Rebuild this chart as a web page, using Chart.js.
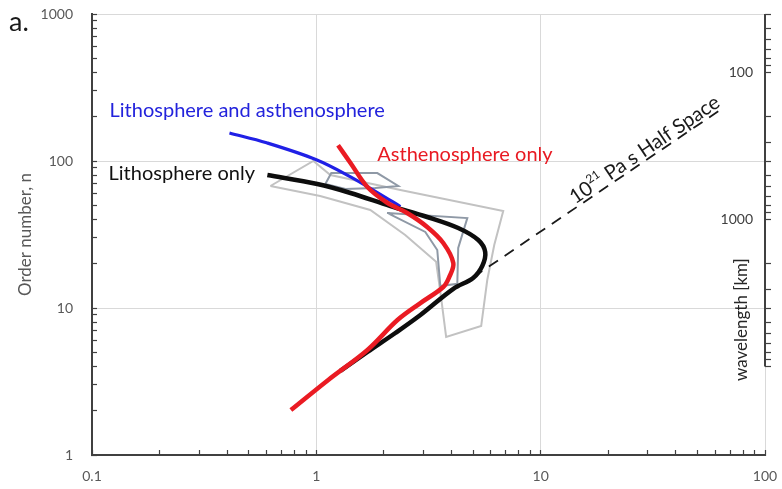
<!DOCTYPE html>
<html>
<head>
<meta charset="utf-8">
<script src="https://cdn.jsdelivr.net/npm/chart.js@4.4.0/dist/chart.umd.min.js"></script>
<style>
  html, body { margin: 0; padding: 0; background: #fff; }
</style>
</head>
<body>
<canvas id="chart" width="782" height="489"></canvas>
<script>
const FONT = 'Lato, "Open Sans", sans-serif';

// curves: x value vs order number n
const bothX = [0.41, 0.6, 1.0, 1.42, 1.87, 2.37];
const bothN = [155, 133, 102, 78, 61, 49];

const lithoX = [0.605, 1.01, 1.42, 2.14, 3.12, 4.29, 5.27, 5.66, 5.49, 5.0, 4.08, 2.91, 2.25, 1.69, 1.28];
const lithoN = [80.3, 69.7, 60.6, 49.4, 41.6, 35.0, 29.0, 24.0, 19.3, 16.0, 13.5, 8.96, 6.76, 5.02, 3.73];

const asthX = [1.25, 1.42, 1.69, 2.07, 2.54, 3.12, 3.68, 4.08, 3.91, 3.68, 2.91, 2.30, 1.69, 1.13, 0.77];
const asthN = [128, 97, 66.5, 52, 44.3, 35.6, 27.7, 20.2, 16.2, 13.9, 10.8, 8.28, 5.18, 3.24, 2.02];

const halfX = [5.0, 63];
const halfN = [16.2, 222];

// grey envelopes
const envAX = [0.624, 0.97, 1.155, 2.37, 6.81, 6.21, 5.78, 5.43, 3.79, 3.6, 3.42, 2.49, 1.74, 1.04, 0.624];
const envAN = [67.6, 100, 80.3, 63.5, 45.7, 26.8, 15.5, 7.54, 6.35, 11.7, 20.6, 31.4, 46.4, 57.8, 67.6];
const envBX = [1.097, 1.166, 1.87, 2.32, 1.83, 1.35, 1.097];
const envBN = [69.7, 82.8, 82.8, 67.6, 65.5, 64.5, 69.7];
const envCX = [2.07, 4.71, 4.29, 4.25, 3.57, 3.46, 3.06, 2.07];
const envCN = [44.3, 40.9, 25.6, 14.6, 14.1, 24.8, 32.9, 44.3];

// axes
const xMajors = [0.1, 1, 10, 100];
const xTickLabels = ['0.1', '1', '10', '100'];
const yMajors = [1, 10, 100, 1000];
const yTickLabels = ['1', '10', '100', '1000'];
const waveMajors = [100, 1000];
const waveTickLabels = ['100', '1000'];
const EARTH_CIRC = 40000; // km, wavelength = EARTH_CIRC / n
const waveAxisEnd = 10000;

const pts = (xs, ys) => xs.map((v, i) => ({ x: v, y: ys[i] }));

function logTicks(majors) {
  const out = [];
  majors.forEach((m, i) => {
    if (i === majors.length - 1) { out.push(m); return; }
    for (let k = 1; k <= 9; k++) out.push(+(m * k).toPrecision(3));
  });
  return out;
}
const isMajor = v => Math.abs(Math.log10(v) - Math.round(Math.log10(v))) < 1e-6;
const waveTicks = logTicks([10, 100, 1000, 10000]).filter(v => v >= 40);

const curveLabels = [
  { text: 'Lithosphere and asthenosphere', x: 0.1197, n: 222, color: '#2323dc' },
  { text: 'Lithosphere only', x: 0.1185, n: 81.6, color: '#111111' },
  { text: 'Asthenosphere only', x: 1.87, n: 109.9, color: '#e81a22' }
];

const noPad = s => { s.paddingLeft = 0; s.paddingRight = 0; s.paddingTop = 0; s.paddingBottom = 0; };

const annotate = {
  id: 'annotate',
  afterDraw(chart) {
    const { ctx, scales: { x, y, y2 } } = chart;
    ctx.save();

    // wavelength axis line (only over its labelled range)
    ctx.strokeStyle = '#404040';
    ctx.lineWidth = 2;
    ctx.beginPath();
    ctx.moveTo(y2.left, y2.getPixelForValue(y2.min));
    ctx.lineTo(y2.left, y2.getPixelForValue(waveAxisEnd));
    ctx.stroke();

    // wavelength title
    ctx.save();
    ctx.translate(y2.left - 23, y2.getPixelForValue(3000) + 30);
    ctx.rotate(-Math.PI / 2);
    ctx.fillStyle = '#262626';
    ctx.font = '17px ' + FONT;
    ctx.textAlign = 'center';
    ctx.textBaseline = 'middle';
    ctx.fillText('wavelength [km]', 0, 0);
    ctx.restore();

    // curve labels
    ctx.font = '20px ' + FONT;
    ctx.textAlign = 'left';
    ctx.textBaseline = 'middle';
    curveLabels.forEach(l => {
      ctx.fillStyle = l.color;
      ctx.fillText(l.text, x.getPixelForValue(l.x), y.getPixelForValue(l.n));
    });

    // half space label along the dashed line
    const x1 = x.getPixelForValue(halfX[0]), y1 = y.getPixelForValue(halfN[0]);
    const x2 = x.getPixelForValue(halfX[1]), y2p = y.getPixelForValue(halfN[1]);
    const ang = Math.atan2(y2p - y1, x2 - x1);
    const t = Math.log(14.5 / halfX[0]) / Math.log(halfX[1] / halfX[0]);
    ctx.save();
    ctx.translate(x1 + t * (x2 - x1), y1 + t * (y2p - y1));
    ctx.rotate(ang);
    ctx.fillStyle = '#1a1a1a';
    ctx.textBaseline = 'alphabetic';
    ctx.font = '20px ' + FONT;
    let cx = 0;
    const by = -3;
    ctx.fillText('10', cx, by); cx += ctx.measureText('10').width;
    ctx.font = '12px ' + FONT;
    ctx.fillText('21', cx, by - 9); cx += ctx.measureText('21').width;
    ctx.font = '20px ' + FONT;
    ctx.fillText(' Pa s Half Space', cx, by);
    ctx.restore();

    // panel letter
    ctx.fillStyle = '#1a1a1a';
    ctx.font = '27px ' + FONT;
    ctx.textAlign = 'left';
    ctx.textBaseline = 'alphabetic';
    ctx.fillText('a.', 9, 31);

    ctx.restore();
  }
};

const lineDs = (label, data, color, width, extra) => Object.assign({
  label, data, borderColor: color, backgroundColor: color, borderWidth: width,
  showLine: true, pointRadius: 0, fill: false, tension: 0.35
}, extra || {});

new Chart(document.getElementById('chart').getContext('2d'), {
  type: 'scatter',
  data: {
    datasets: [
      lineDs('Asthenosphere only', pts(asthX, asthN), '#ea1b23', 4.5),
      lineDs('Lithosphere only', pts(lithoX, lithoN), '#0d0d0d', 4.5),
      lineDs('Lithosphere and asthenosphere', pts(bothX, bothN), '#2020e6', 3.2),
      lineDs('Half space', pts(halfX, halfN), '#1a1a1a', 1.8, { tension: 0, borderDash: [11, 8] }),
      lineDs('Envelope C', pts(envCX, envCN), '#8f99a6', 2, { tension: 0 }),
      lineDs('Envelope B', pts(envBX, envBN), '#8f99a6', 2, { tension: 0 }),
      lineDs('Envelope A', pts(envAX, envAN), '#c2c2c2', 2, { tension: 0 })
    ]
  },
  options: {
    responsive: false,
    animation: false,
    layout: { padding: { top: 14, left: 0, right: 0, bottom: 0 } },
    plugins: { legend: { display: false }, tooltip: { enabled: false } },
    scales: {
      x: {
        type: 'logarithmic', position: 'bottom', min: 0.1, max: 100,
        afterBuildTicks: s => { s.ticks = logTicks(xMajors).map(v => ({ value: v })); },
        afterFit: s => { s.height = 34; noPad(s); },
        ticks: {
          autoSkip: false, maxRotation: 0, padding: 18, color: '#595959',
          font: { family: FONT, size: 14 },
          callback: v => { const i = xMajors.findIndex(m => Math.abs(m - v) < 1e-9); return i >= 0 ? xTickLabels[i] : ''; }
        },
        grid: {
          color: c => (c.tick && isMajor(c.tick.value)) ? '#d9d9d9' : 'rgba(0,0,0,0)',
          tickColor: '#404040', tickLength: -5, tickWidth: 1.2, lineWidth: 1
        },
        border: { color: '#404040', width: 2 }
      },
      y: {
        type: 'logarithmic', position: 'left', min: 1, max: 1000,
        afterBuildTicks: s => { s.ticks = logTicks(yMajors).map(v => ({ value: v })); },
        afterFit: s => { s.width = 92; noPad(s); },
        ticks: {
          autoSkip: false, padding: 24, color: '#595959',
          font: { family: FONT, size: 14 },
          callback: v => { const i = yMajors.findIndex(m => Math.abs(m - v) < 1e-9); return i >= 0 ? yTickLabels[i] : ''; }
        },
        grid: {
          color: c => (c.tick && isMajor(c.tick.value)) ? '#d9d9d9' : 'rgba(0,0,0,0)',
          tickColor: '#404040', tickLength: -5, tickWidth: 1.2, lineWidth: 1
        },
        border: { color: '#404040', width: 2 },
        title: {
          display: true, text: 'Order number, n', color: '#595959',
          font: { family: FONT, size: 17 }, padding: { top: 15, bottom: 0 }
        }
      },
      y2: {
        type: 'logarithmic', position: 'right', reverse: true,
        min: EARTH_CIRC / 1000, max: EARTH_CIRC / 1,
        afterBuildTicks: s => { s.ticks = waveTicks.map(v => ({ value: v })); },
        afterFit: s => { s.width = 17; noPad(s); },
        ticks: {
          autoSkip: false, mirror: true, padding: -12, color: '#404040',
          font: { family: FONT, size: 14 },
          callback: v => { const i = waveMajors.indexOf(v); return i >= 0 ? waveTickLabels[i] : ''; }
        },
        grid: { drawOnChartArea: false, tickColor: '#404040', tickLength: 6, tickWidth: 1.2 },
        border: { display: false }
      }
    }
  },
  plugins: [annotate]
});
</script>
</body>
</html>
